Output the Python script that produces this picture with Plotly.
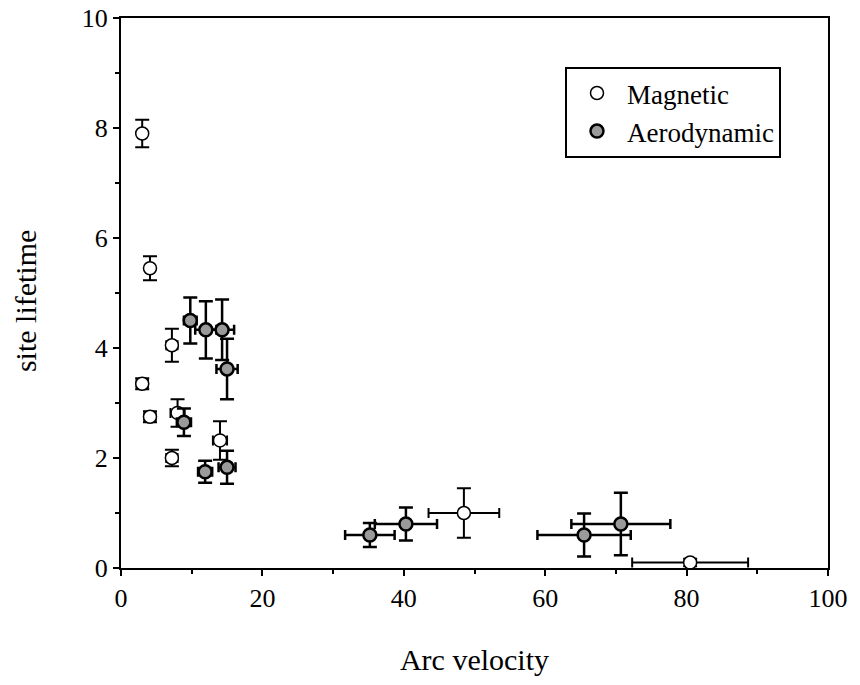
import plotly.graph_objects as go

# Magnetic series
mag_x = [3.0, 4.1, 7.2, 3.0, 4.1, 7.2, 8.0, 14.0, 48.5, 80.5]
mag_y = [7.9, 5.45, 4.05, 3.35, 2.75, 2.0, 2.82, 2.32, 1.0, 0.1]
mag_xerr = [0.0, 0.0, 0.8, 0.8, 0.8, 0.8, 1.0, 1.0, 5.0, 8.2]
mag_yerr = [0.25, 0.22, 0.3, 0.1, 0.1, 0.15, 0.25, 0.35, 0.45, 0.07]

# Aerodynamic series
aer_x = [9.8, 12.0, 14.3, 15.0, 8.9, 11.9, 15.0, 35.2, 40.3, 65.5, 70.7]
aer_y = [4.5, 4.33, 4.33, 3.62, 2.65, 1.75, 1.83, 0.6, 0.8, 0.6, 0.8]
aer_xerr = [0.9, 1.5, 1.7, 1.5, 1.0, 1.0, 1.2, 3.5, 4.4, 6.6, 7.0]
aer_yerr = [0.42, 0.52, 0.55, 0.55, 0.25, 0.2, 0.3, 0.22, 0.3, 0.39, 0.57]

x_ticks = [0, 20, 40, 60, 80, 100]
y_ticks = [0, 2, 4, 6, 8, 10]

font_family = "Liberation Serif, Times New Roman, serif"

fig = go.Figure()

fig.add_trace(go.Scatter(
    x=mag_x, y=mag_y, mode="markers", name="Magnetic",
    marker=dict(symbol="circle", size=13, color="white",
                line=dict(color="black", width=1.5)),
    error_x=dict(type="data", array=mag_xerr, color="black", thickness=2, width=5),
    error_y=dict(type="data", array=mag_yerr, color="black", thickness=2, width=7),
))

fig.add_trace(go.Scatter(
    x=aer_x, y=aer_y, mode="markers", name="Aerodynamic",
    marker=dict(symbol="circle", size=13, color="#9a9a9a",
                line=dict(color="black", width=2.5)),
    error_x=dict(type="data", array=aer_xerr, color="black", thickness=2.5, width=5),
    error_y=dict(type="data", array=aer_yerr, color="black", thickness=2.5, width=7),
))

axis_common = dict(
    showline=True, linecolor="black", linewidth=2, mirror=True,
    ticks="outside", ticklen=6, tickwidth=2, tickcolor="black",
    showgrid=False, zeroline=False, ticklabeloverflow="allow",
    automargin=False,
    tickfont=dict(family=font_family, size=26, color="black"),
)

fig.update_xaxes(
    range=[0, 100], tickvals=x_ticks,
    minor=dict(dtick=10, ticks="outside", ticklen=4, tickwidth=1.5, tickcolor="black"),
    title=dict(text="Arc velocity", font=dict(family=font_family, size=30, color="black"),
               standoff=37),
    **axis_common,
)
fig.update_yaxes(
    range=[0, 10], tickvals=y_ticks,
    minor=dict(dtick=1, ticks="outside", ticklen=4, tickwidth=1.5, tickcolor="black"),
    **axis_common,
)

fig.add_annotation(
    text="site lifetime", xref="paper", yref="paper",
    x=-0.136, y=0.485, xanchor="center", yanchor="middle",
    textangle=-90, showarrow=False,
    font=dict(family=font_family, size=30, color="black"),
)

fig.update_layout(
    width=860, height=685,
    margin=dict(l=121, r=32, t=18, b=117, autoexpand=False),
    paper_bgcolor="white", plot_bgcolor="white",
    showlegend=True,
    legend=dict(
        x=0.628, y=0.911, xanchor="left", yanchor="top",
        bgcolor="white", bordercolor="black", borderwidth=2,
        font=dict(family=font_family, size=27, color="black"),
        itemwidth=50,
    ),
    font=dict(family=font_family, color="black"),
)

fig.write_html("out.html", config={"displayModeBar": False},
               post_script="document.body.style.margin='0';")
